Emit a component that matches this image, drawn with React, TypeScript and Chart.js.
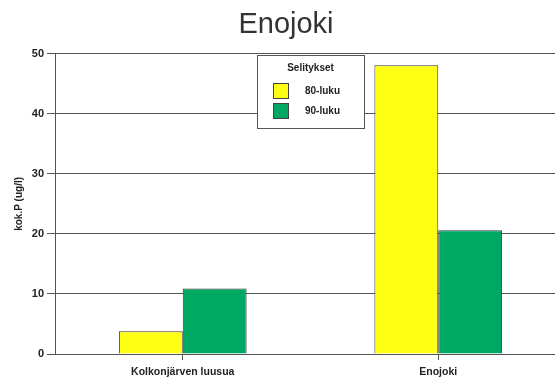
import React, { useEffect, useRef } from "react";
import { Chart, registerables } from "chart.js";

Chart.register(...registerables);

const categories = ["Kolkonjärven luusua", "Enojoki"];
const seriesLabels = ["80-luku", "90-luku"];
const values80 = [3.8, 48.1];
const values90 = [10.9, 20.6];
const seriesColors = ["#FFFF14", "#00A862"];
const yMin = 0;
const yMax = 50;
const yStep = 10;
const titleText = "Enojoki";
const yTitle = "kok.P (ug/l)";
const legendTitle = "Selitykset";

const FONT = "'Liberation Sans', Arial, sans-serif";

const boxLegend = {
  id: "boxLegend",
  afterDraw(chart: any) {
    const { ctx, chartArea } = chart;
    const x = Math.round(chartArea.left + 202);
    const y = Math.round(chartArea.top + 1);
    const w = 107;
    const h = 73;
    ctx.save();
    ctx.fillStyle = "#ffffff";
    ctx.fillRect(x, y, w, h);
    ctx.strokeStyle = "#555555";
    ctx.lineWidth = 1;
    ctx.strokeRect(x + 0.5, y + 0.5, w, h);
    ctx.font = `bold 10px ${FONT}`;
    ctx.fillStyle = "#222222";
    ctx.textAlign = "center";
    ctx.textBaseline = "middle";
    ctx.fillText(legendTitle, x + w / 2, y + 13);
    chart.data.datasets.forEach((ds: any, i: number) => {
      const sy = y + 28 + i * 20;
      ctx.fillStyle = ds.backgroundColor;
      ctx.fillRect(x + 16, sy, 16, 16);
      ctx.strokeStyle = "#444444";
      ctx.strokeRect(x + 16.5, sy + 0.5, 15, 15);
      ctx.fillStyle = "#222222";
      ctx.textAlign = "left";
      ctx.fillText(ds.label, x + 48, sy + 8);
    });
    ctx.restore();
  },
};

export default function App() {
  const ref = useRef<HTMLCanvasElement | null>(null);

  useEffect(() => {
    if (!ref.current) return;
    Chart.defaults.font.family = FONT;
    const chart = new Chart(ref.current, {
      type: "bar",
      data: {
        labels: categories,
        datasets: [
          {
            label: seriesLabels[0],
            data: values80,
            backgroundColor: seriesColors[0],
            borderColor: "#3a3a3a",
            borderWidth: 1,
            categoryPercentage: 0.5,
            barPercentage: 1.0,
          },
          {
            label: seriesLabels[1],
            data: values90,
            backgroundColor: seriesColors[1],
            borderColor: "#3a3a3a",
            borderWidth: 1,
            categoryPercentage: 0.5,
            barPercentage: 1.0,
          },
        ],
      },
      options: {
        animation: false,
        responsive: true,
        maintainAspectRatio: false,
        layout: { padding: { left: 6, right: 14, top: 0, bottom: 0 } },
        plugins: {
          legend: { display: false },
          tooltip: { enabled: false },
          title: {
            display: true,
            text: titleText,
            color: "#333333",
            font: { size: 29, weight: "normal", family: FONT },
            padding: { top: 8, bottom: 11 },
          },
        },
        scales: {
          x: {
            grid: {
              drawOnChartArea: false,
              drawTicks: true,
              tickLength: 6,
              offset: false,
              color: "#555555",
            },
            border: { display: true, color: "#555555" },
            ticks: {
              color: "#222222",
              font: { size: 10.5, weight: "bold", family: FONT },
              padding: 6,
              maxRotation: 0,
            },
            afterFit: (scale: any) => {
              scale.height = 29;
            },
          },
          y: {
            min: yMin,
            max: yMax,
            ticks: {
              stepSize: yStep,
              color: "#222222",
              font: { size: 11, weight: "bold", family: FONT },
              padding: 3,
            },
            grid: {
              color: "#555555",
              tickLength: 8,
              drawTicks: true,
            },
            border: { display: true, color: "#555555" },
            title: {
              display: true,
              text: yTitle,
              color: "#222222",
              font: { size: 10, weight: "bold", family: FONT },
              padding: { top: 7, bottom: 0 },
            },
            afterFit: (scale: any) => {
              scale.width = 49;
            },
          },
        },
      },
      plugins: [boxLegend],
    });
    return () => chart.destroy();
  }, []);

  return (
    <div
      style={{
        position: "fixed",
        left: 0,
        top: 0,
        width: "580px",
        height: "383px",
        background: "#ffffff",
      }}
    >
      <canvas ref={ref} />
    </div>
  );
}
